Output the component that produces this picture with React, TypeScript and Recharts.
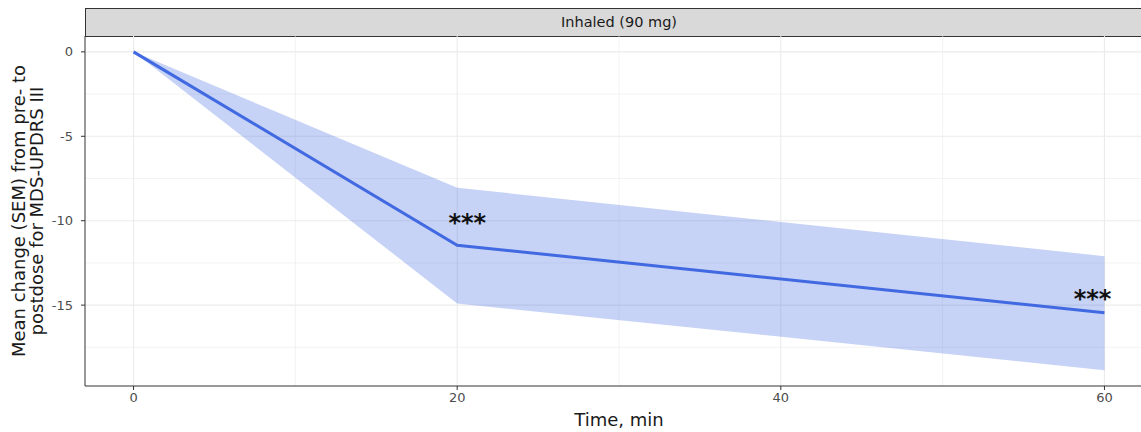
import React from "react";
import {
  ComposedChart,
  Area,
  Line,
  Scatter,
  XAxis,
  YAxis,
  CartesianGrid,
  Label,
} from "recharts";

// time points (min) and mean change with SEM band
const TIMES = [0, 20, 60];
const MEAN = [0, -11.45, -15.45];
const SEM_LO = [0, -14.9, -18.85];
const SEM_HI = [0, -8.05, -12.1];

// significance markers
const STAR_X = [20.62, 59.26];
const STAR_Y = [-9.8, -14.3];
const STAR_TXT = ["***", "***"];

const X_TICKS = [0, 20, 40, 60];
const X_MINOR = [10, 30, 50];
const Y_TICKS = [0, -5, -10, -15];
const Y_MINOR = [-2.5, -7.5, -12.5, -17.5];

const FONT = "'DejaVu Sans', sans-serif";
const BLUE = "#4169E1";

const rows = TIMES.map((t, i) => ({ t, mean: MEAN[i], band: [SEM_LO[i], SEM_HI[i]] }));
const stars = STAR_X.map((t, i) => ({ t, y: STAR_Y[i], txt: STAR_TXT[i] }));

function StarShape(p: any) {
  return (
    <text x={p.cx} y={p.cy} dy="0.58em" textAnchor="middle" fontSize={24} fontWeight="bold" fontFamily={FONT} fill="#111">
      {p.payload.txt}
    </text>
  );
}

function YTitle(p: any) {
  const vb = p.viewBox;
  const cy = vb.y + vb.height / 2;
  return (
    <g fontFamily={FONT} fontSize={18} fill="#1a1a1a">
      <text x={25} y={cy} transform={`rotate(-90 25 ${cy})`} textAnchor="middle">
        Mean change (SEM) from pre- to
      </text>
      <text x={43} y={cy} transform={`rotate(-90 43 ${cy})`} textAnchor="middle">
        postdose for MDS-UPDRS III
      </text>
    </g>
  );
}

export default function App() {
  const tick = { fontSize: 13, fill: "#4d4d4d", fontFamily: FONT };
  return (
    <div style={{ position: "absolute", left: 0, top: 0, width: 1141, height: 432, overflow: "hidden", background: "#fff" }}>
      <div
        style={{
          position: "absolute",
          left: 85,
          top: 8,
          width: 1068,
          height: 29,
          boxSizing: "border-box",
          background: "#d9d9d9",
          border: "1px solid #333",
          textAlign: "center",
          fontFamily: FONT,
          fontSize: 14.5,
          lineHeight: "27px",
          color: "#1a1a1a",
        }}
      >
        Inhaled (90 mg)
      </div>
      <ComposedChart width={1160} height={432} data={rows} margin={{ top: 36, right: 7, bottom: 0, left: 0 }}>
        <CartesianGrid horizontalValues={Y_MINOR} verticalValues={X_MINOR} stroke="#ebebeb" strokeWidth={0.6} />
        <CartesianGrid horizontalValues={Y_TICKS} verticalValues={X_TICKS} stroke="#ebebeb" strokeWidth={1.1} />
        <XAxis
          dataKey="t"
          type="number"
          domain={[-3, 63]}
          ticks={X_TICKS}
          allowDataOverflow
          height={46}
          tick={tick}
          tickSize={4}
          tickMargin={3}
          stroke="#333"
        >
          <Label value="Time, min" position="insideBottom" offset={6} fontSize={18} fill="#1a1a1a" fontFamily={FONT} />
        </XAxis>
        <YAxis
          type="number"
          domain={[-19.79, 0.94]}
          ticks={Y_TICKS}
          allowDataOverflow
          width={85}
          tick={tick}
          tickSize={4}
          tickMargin={8}
          stroke="#333"
        >
          <Label content={YTitle} />
        </YAxis>
        <Area dataKey="band" type="linear" fill={BLUE} fillOpacity={0.3} stroke="none" isAnimationActive={false} />
        <Line dataKey="mean" type="linear" stroke={BLUE} strokeWidth={3} dot={false} isAnimationActive={false} />
        <Scatter data={stars} dataKey="y" shape={StarShape} isAnimationActive={false} />
      </ComposedChart>
    </div>
  );
}
